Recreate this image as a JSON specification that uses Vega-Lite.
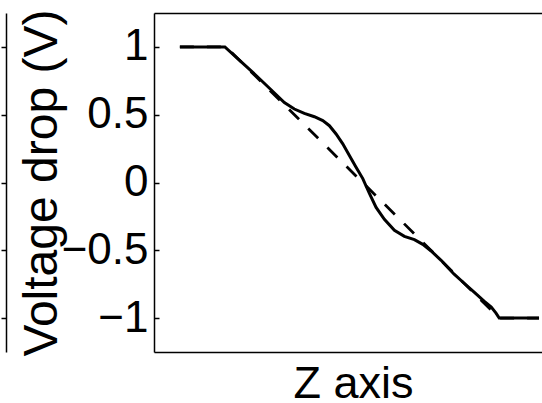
{
  "$schema": "https://vega.github.io/schema/vega-lite/v6.json",
  "width": 389,
  "height": 339,
  "padding": {"left": 0, "top": 9, "right": 0, "bottom": 0},
  "background": "white",
  "config": {
    "view": {"stroke": null},
    "font": "Liberation Sans",
    "axis": {"grid": false, "domainColor": "black", "domainWidth": 1.5, "tickColor": "black", "tickWidth": 1.5, "labelColor": "black", "titleColor": "black", "titleFontWeight": "normal", "labelFont": "Liberation Sans", "titleFont": "Liberation Sans"}
  },
  "datasets": {
    "measured": [
      {"z": 0.65, "v": 1.0}, {"z": 1.78, "v": 1.0}, {"z": 2.44, "v": 0.824}, {"z": 2.94, "v": 0.684},
      {"z": 3.274, "v": 0.590}, {"z": 3.525, "v": 0.542}, {"z": 3.776, "v": 0.510}, {"z": 4.028, "v": 0.485},
      {"z": 4.239, "v": 0.456}, {"z": 4.405, "v": 0.419}, {"z": 4.573, "v": 0.358}, {"z": 4.741, "v": 0.285},
      {"z": 4.907, "v": 0.199}, {"z": 5.075, "v": 0.113}, {"z": 5.244, "v": 0.029}, {"z": 5.410, "v": -0.081},
      {"z": 5.578, "v": -0.184}, {"z": 5.786, "v": -0.272}, {"z": 6.038, "v": -0.353}, {"z": 6.289, "v": -0.397},
      {"z": 6.540, "v": -0.421}, {"z": 6.751, "v": -0.456}, {"z": 6.960, "v": -0.505}, {"z": 7.211, "v": -0.574},
      {"z": 7.379, "v": -0.627}, {"z": 7.538, "v": -0.676}, {"z": 7.79, "v": -0.743}, {"z": 8.04, "v": -0.809},
      {"z": 8.29, "v": -0.875}, {"z": 8.47, "v": -0.919}, {"z": 8.59, "v": -0.963}, {"z": 8.67, "v": -1.0},
      {"z": 9.67, "v": -1.0}
    ],
    "ideal": [
      {"z": 0.65, "v": 1.0}, {"z": 1.81, "v": 1.0}, {"z": 8.67, "v": -1.0}, {"z": 9.67, "v": -1.0}
    ]
  },
  "layer": [
    {
      "data": {"name": "ideal"},
      "mark": {"type": "line", "color": "black", "strokeWidth": 2.8, "strokeDash": [14, 13]},
      "encoding": {
        "x": {"field": "z", "type": "quantitative", "scale": {"domain": [0, 9.77], "nice": false, "zero": false},
          "axis": {"orient": "top", "ticks": false, "labels": false, "title": null, "domain": true}},
        "y": {"field": "v", "type": "quantitative", "scale": {"domain": [-1.25, 1.25], "nice": false, "zero": false},
          "axis": {"orient": "left", "offset": 148, "values": [-1, -0.5, 0, 0.5, 1], "tickSize": 5, "labels": false, "title": null, "domain": true}}
      }
    },
    {
      "data": {"name": "measured"},
      "mark": {"type": "line", "color": "black", "strokeWidth": 3},
      "encoding": {
        "x": {"field": "z", "type": "quantitative",
          "axis": {"orient": "bottom", "ticks": false, "labels": false, "title": "Z axis", "titleFontSize": 45, "titleBaseline": "alphabetic", "titleX": 199, "titleY": 45, "domain": true}},
        "y": {"field": "v", "type": "quantitative",
          "axis": {"orient": "left", "values": [-1, -0.5, 0, 0.5, 1], "format": ".1~f", "tickSize": -5, "labelPadding": 11, "labelFontSize": 44, "title": "Voltage drop (V)", "titleFontSize": 48, "titleBaseline": "alphabetic", "titleX": -98, "titleY": 169.5, "domain": true}}
      }
    }
  ],
  "resolve": {"axis": {"x": "independent", "y": "independent"}}
}
